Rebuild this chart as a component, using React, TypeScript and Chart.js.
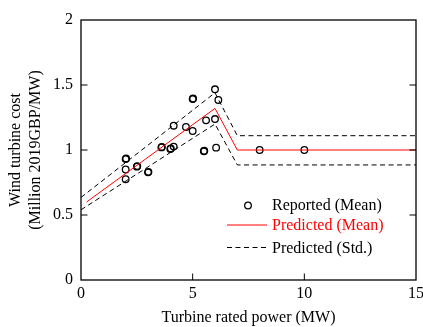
import React, { useEffect, useRef } from "react";
import { Chart, registerables } from "chart.js";

Chart.register(...registerables);

// Reported (mean) turbine costs
const reportedX = [2.0, 2.02, 2.0, 2.0, 2.5, 2.52, 3.0, 3.02, 3.6, 3.62, 4.0, 4.02, 4.15, 4.15, 4.7, 5.0, 5.02, 5.0, 5.5, 5.52, 5.6, 6.0, 6.15, 6.0, 6.05, 8.0, 10.0];
const reportedY = [0.93, 0.935, 0.85, 0.775, 0.872, 0.876, 0.828, 0.832, 1.02, 1.024, 1.008, 1.012, 1.026, 1.187, 1.177, 1.392, 1.396, 1.146, 0.99, 0.994, 1.228, 1.467, 1.385, 1.238, 1.018, 1.0, 1.0];

// Predicted mean
const meanX = [0.25, 6.0, 7.0, 15];
const meanY = [0.6, 1.32, 1.0, 1.0];

// Predicted std band
const upperX = [0, 6.0, 7.0, 15];
const upperY = [0.635, 1.44, 1.11, 1.11];
const lowerX = [0, 6.0, 7.0, 15];
const lowerY = [0.54, 1.2, 0.885, 0.885];

const xTicks = [0, 5, 10, 15];
const yTicks = [0, 0.5, 1, 1.5, 2];

const legendItems = ["Reported (Mean)", "Predicted (Mean)", "Predicted (Std.)"];

const FONT = "'Liberation Serif', 'Times New Roman', serif";
Chart.defaults.font.family = FONT;
Chart.defaults.font.size = 16;
Chart.defaults.color = "#000";

const zip = (xs: number[], ys: number[]) => xs.map((x, i) => ({ x, y: ys[i] }));

const framePlugin = {
  id: "frameAndLegend",
  afterDraw(chart: any) {
    const { ctx, chartArea, scales } = chart;
    const { left, right, top, bottom } = chartArea;
    ctx.save();
    // frame
    ctx.strokeStyle = "#000";
    ctx.lineWidth = 1.3;
    ctx.setLineDash([]);
    ctx.strokeRect(left, top, right - left, bottom - top);
    // inward ticks
    const tl = 6.5;
    ctx.lineWidth = 1;
    ctx.beginPath();
    yTicks.slice(1, -1).forEach((v) => {
      const y = scales.y.getPixelForValue(v);
      ctx.moveTo(left, y);
      ctx.lineTo(left + tl, y);
      ctx.moveTo(right, y);
      ctx.lineTo(right - tl, y);
    });
    xTicks.slice(1, -1).forEach((v) => {
      const x = scales.x.getPixelForValue(v);
      ctx.moveTo(x, bottom);
      ctx.lineTo(x, bottom - tl);
    });
    ctx.stroke();

    // legend
    const lx = left + 146;
    const tx = left + 191;
    const rows = [top + 185.5, top + 206, top + 228.5];
    ctx.font = `16px ${FONT}`;
    ctx.textBaseline = "middle";
    ctx.textAlign = "left";
    // row 1: circle
    ctx.strokeStyle = "#000";
    ctx.lineWidth = 1.3;
    ctx.beginPath();
    ctx.arc(left + 167, rows[0], 3.3, 0, Math.PI * 2);
    ctx.stroke();
    ctx.fillStyle = "#000";
    ctx.fillText(legendItems[0], tx, rows[0]);
    // row 2: red line
    ctx.strokeStyle = "#ff0000";
    ctx.lineWidth = 1;
    ctx.beginPath();
    ctx.moveTo(lx, rows[1] - 1);
    ctx.lineTo(lx + 40, rows[1] - 1);
    ctx.stroke();
    ctx.fillStyle = "#ff0000";
    ctx.fillText(legendItems[1], tx, rows[1]);
    // row 3: dashed
    ctx.strokeStyle = "#000";
    ctx.setLineDash([5, 3.5]);
    ctx.beginPath();
    ctx.moveTo(lx, rows[2] - 1);
    ctx.lineTo(lx + 40, rows[2] - 1);
    ctx.stroke();
    ctx.setLineDash([]);
    ctx.fillStyle = "#000";
    ctx.fillText(legendItems[2], tx, rows[2]);
    ctx.restore();
  },
};

export default function App() {
  const ref = useRef<HTMLCanvasElement | null>(null);
  useEffect(() => {
    if (!ref.current) return;
    const chart = new Chart(ref.current, {
      type: "scatter",
      data: {
        datasets: [
          {
            label: legendItems[1],
            data: zip(meanX, meanY),
            showLine: true,
            borderColor: "#ff0000",
            borderWidth: 1,
            pointRadius: 0,
            fill: false,
          },
          {
            label: legendItems[2],
            data: zip(upperX, upperY),
            showLine: true,
            borderColor: "#000",
            borderWidth: 1,
            borderDash: [5, 3.5],
            pointRadius: 0,
            fill: false,
          },
          {
            label: legendItems[2] + " lower",
            data: zip(lowerX, lowerY),
            showLine: true,
            borderColor: "#000",
            borderWidth: 1,
            borderDash: [5, 3.5],
            pointRadius: 0,
            fill: false,
          },
          {
            label: legendItems[0],
            data: zip(reportedX, reportedY),
            showLine: false,
            pointRadius: 3.3,
            pointBorderWidth: 1.3,
            pointBorderColor: "#000",
            pointBackgroundColor: "rgba(0,0,0,0)",
          },
        ],
      },
      options: {
        responsive: false,
        animation: false,
        devicePixelRatio: 1,
        layout: { padding: { left: 0, right: 24, top: 20, bottom: 0 } },
        plugins: { legend: { display: false }, tooltip: { enabled: false } },
        scales: {
          x: {
            type: "linear",
            min: 0,
            max: 15,
            afterFit: (s: any) => {
              s.height = 47;
            },
            afterBuildTicks: (s: any) => {
              s.ticks = xTicks.map((v) => ({ value: v }));
            },
            grid: { display: false, drawTicks: false },
            border: { display: false },
            ticks: {
              color: "#000",
              font: { family: FONT, size: 16 },
              padding: 4,
              maxRotation: 0,
              autoSkip: false,
              callback: (v: any) => String(v),
            },
            title: {
              display: true,
              text: "Turbine rated power (MW)",
              color: "#000",
              font: { family: FONT, size: 16 },
              padding: { top: 0, bottom: 0 },
            },
          },
          y: {
            type: "linear",
            min: 0,
            max: 2,
            afterFit: (s: any) => {
              s.width = 81;
            },
            afterBuildTicks: (s: any) => {
              s.ticks = yTicks.map((v) => ({ value: v }));
            },
            grid: { display: false, drawTicks: false },
            border: { display: false },
            ticks: {
              color: "#000",
              font: { family: FONT, size: 16 },
              padding: 8,
              autoSkip: false,
              callback: (v: any) => String(v),
            },
            title: {
              display: true,
              text: ["Wind turbine cost", "(Million 2019GBP/MW)"],
              color: "#000",
              font: { family: FONT, size: 16, lineHeight: 1.2 },
              padding: { top: 6.5, bottom: 0 },
            },
          },
        },
      },
      plugins: [framePlugin],
    });
    return () => chart.destroy();
  }, []);
  return (
    <div
      style={{
        position: "fixed",
        left: 0,
        top: 0,
        width: 423,
        height: 327,
        overflow: "hidden",
        background: "#fff",
      }}
    >
      <canvas ref={ref} width={440} height={327} style={{ display: "block" }} />
    </div>
  );
}
